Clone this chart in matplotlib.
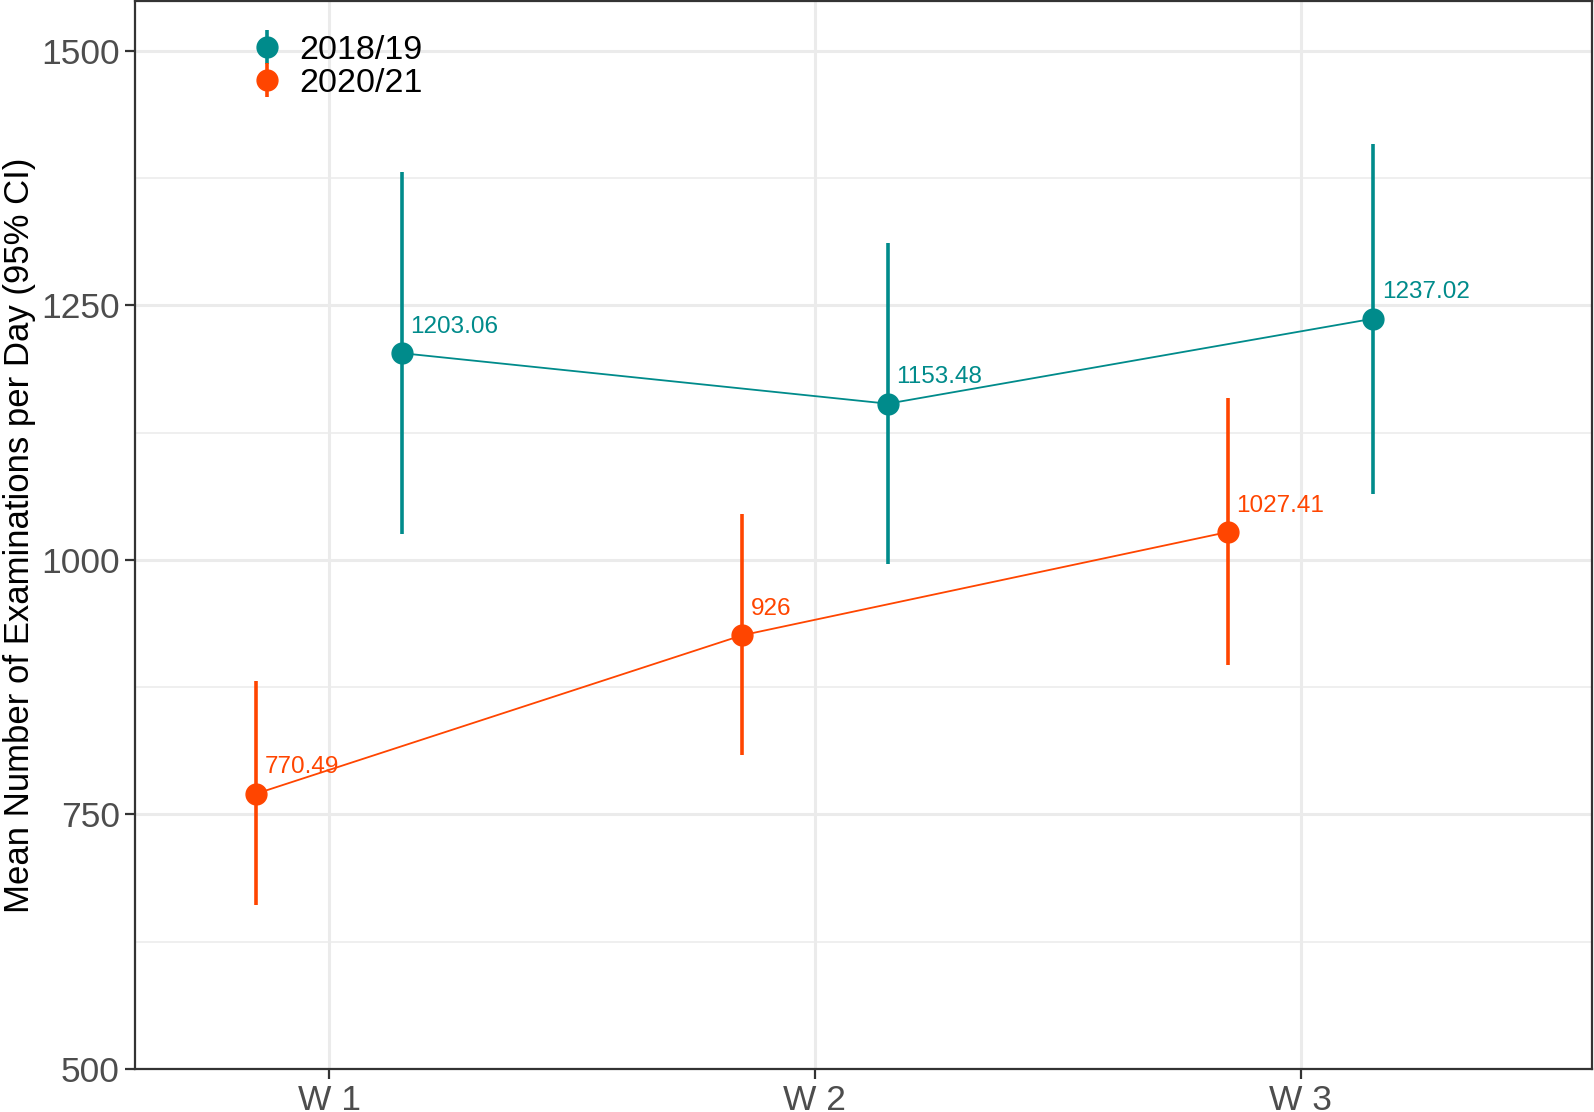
import matplotlib
matplotlib.use("Agg")
import matplotlib.pyplot as plt
from matplotlib.ticker import MultipleLocator
import numpy as np

plt.rcParams['font.family'] = ['Liberation Sans', 'DejaVu Sans']

weeks = ["W 1", "W 2", "W 3"]
series = ["2018/19", "2020/21"]
means_1819 = [1203.06, 1153.48, 1237.02]
lo_1819 = [1025, 996, 1065]
hi_1819 = [1381, 1311, 1409]
means_2021 = [770.49, 926, 1027.41]
lo_2021 = [661, 808, 897]
hi_2021 = [881, 1045, 1159]
labels_1819 = ["1203.06", "1153.48", "1237.02"]
labels_2021 = ["770.49", "926", "1027.41"]
colors = {"2018/19": "#008B8B", "2020/21": "#FF4500"}

fig = plt.figure(figsize=(15.94, 11.12), dpi=100)
ax = fig.add_axes([135/1594, 1 - 1069/1112, (1592-135)/1594, (1069-1)/1112])

x = np.arange(1, len(weeks) + 1)
dodge = 0.15
data = [
    ("2018/19", x + dodge, means_1819, lo_1819, hi_1819, labels_1819),
    ("2020/21", x - dodge, means_2021, lo_2021, hi_2021, labels_2021),
]
handles = []
for name, xs, m, lo, hi, labs in data:
    c = colors[name]
    m = np.array(m); lo = np.array(lo); hi = np.array(hi)
    ax.plot(xs, m, color=c, lw=1.3, zorder=3)
    h = ax.errorbar(xs, m, yerr=[m - lo, hi - m], fmt='o', color=c, ms=15,
                    elinewidth=2.6, capsize=0, zorder=4, label=name)
    handles.append(h)
    for xi, yi, t in zip(xs, m, labs):
        ax.annotate(t, (xi, yi), xytext=(6, 11), textcoords='offset points',
                    color=c, fontsize=17.5, ha='left', va='bottom', zorder=5)

ax.set_xlim(0.6, 3.6)
ax.set_ylim(500, 1549)
ax.set_xticks(x)
ax.set_xticklabels(weeks)
ax.yaxis.set_major_locator(MultipleLocator(250))
ax.yaxis.set_minor_locator(MultipleLocator(125))
ax.grid(which='major', color='#EBEBEB', lw=2.2, zorder=0)
ax.grid(which='minor', axis='y', color='#EBEBEB', lw=1.1, zorder=0)
ax.set_axisbelow(True)
for s in ax.spines.values():
    s.set_color('#333333')
    s.set_linewidth(1.6)
ax.tick_params(which='major', length=7, width=1.6, color='#333333',
               labelsize=25.5, labelcolor='#4D4D4D', pad=4)
ax.tick_params(which='minor', length=0)
ax.set_ylabel("Mean Number of Examinations per Day (95% CI)", fontsize=25,
              color='black', labelpad=4)

leg = ax.legend(handles=handles, labels=series, loc='upper left',
                bbox_to_anchor=(0.067, 0.981), frameon=False, fontsize=24.5,
                handletextpad=0.35, labelspacing=0.06, handlelength=1.2,
                borderaxespad=0.0)

fig.savefig("out.png", dpi=100)
